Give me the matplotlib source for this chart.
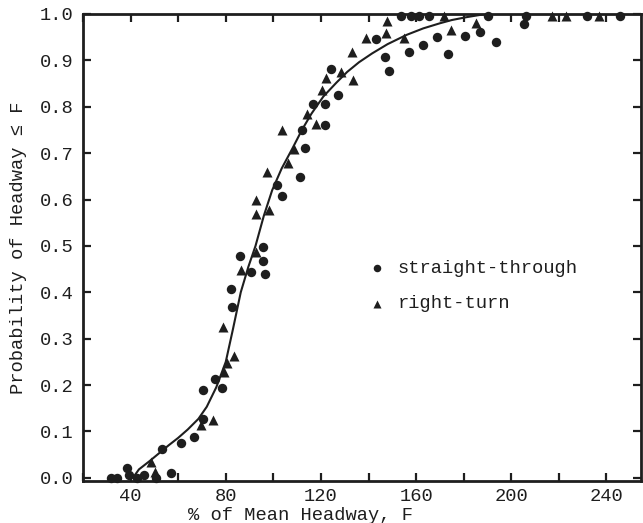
import matplotlib
matplotlib.use("Agg")
import matplotlib.pyplot as plt
from matplotlib.ticker import MultipleLocator, FormatStrFormatter

# ---- data ----
straight_x = [31.6, 34.1, 38.3, 39.2, 42.5, 45.5, 50.5, 56.8, 53.0, 61.0, 66.5,
              70.4, 70.4, 75.5, 78.3, 82.1, 82.6, 85.8, 90.8, 95.8, 95.8, 96.5,
              101.7, 103.5, 111.3, 112.0, 113.4, 116.8, 121.5, 121.8, 124.4, 127.0,
              143.0, 147.0, 148.6, 157.2, 163.0, 168.6, 173.3, 180.6, 187.0, 193.5,
              205.5, 153.5, 158.0, 161.0, 165.5, 190.0, 206.0, 231.6, 245.5]
straight_y = [0.0, 0.0, 0.02, 0.005, 0.0, 0.005, 0.0, 0.01, 0.063, 0.075, 0.088,
              0.19, 0.127, 0.213, 0.193, 0.407, 0.369, 0.478, 0.443, 0.498, 0.468, 0.44,
              0.631, 0.607, 0.648, 0.75, 0.711, 0.807, 0.76, 0.807, 0.881, 0.825,
              0.946, 0.908, 0.878, 0.918, 0.934, 0.951, 0.913, 0.953, 0.962, 0.94,
              0.978, 0.996, 0.996, 0.996, 0.996, 0.996, 0.996, 0.996, 0.996]

right_x = [48.5, 50.3, 69.5, 74.6, 78.7, 79.2, 80.4, 83.4, 86.3, 92.8, 92.8, 92.7,
           98.3, 97.5, 103.5, 106.0, 108.6, 114.0, 118.0, 120.3, 122.0, 128.3,
           133.0, 133.5, 139.0, 147.2, 147.8, 155.0, 174.6, 185.0,
           171.8, 217.0, 223.0, 237.0]
right_y = [0.035, 0.012, 0.113, 0.125, 0.325, 0.229, 0.247, 0.262, 0.447, 0.6, 0.569, 0.486,
           0.577, 0.66, 0.75, 0.679, 0.709, 0.784, 0.762, 0.836, 0.862, 0.874,
           0.917, 0.858, 0.948, 0.96, 0.985, 0.948, 0.965, 0.98,
           0.996, 0.996, 0.996, 0.996]

curve_x = [41, 43.5, 48, 52, 56, 60, 64, 68.5, 72, 76, 80, 83, 86.3, 89.5, 92.5,
           96, 99.5, 103.5, 108, 112, 116, 121, 126.5, 131, 136, 141.5, 148, 156,
           163, 170, 175, 181, 188, 192]
curve_y = [0.0, 0.018, 0.036, 0.053, 0.07, 0.086, 0.104, 0.127, 0.153, 0.195, 0.25,
           0.32, 0.40, 0.455, 0.50, 0.565, 0.62, 0.667, 0.71, 0.75, 0.785, 0.822,
           0.852, 0.875, 0.896, 0.915, 0.935, 0.955, 0.969, 0.98, 0.987, 0.993,
           0.999, 1.0]

x_major = [40, 80, 120, 160, 200, 240]
labels = ["straight-through", "right-turn"]

FONT = ["Liberation Mono", "DejaVu Sans Mono"]
plt.rcParams['font.family'] = FONT
FS = 13.5
INK = "#1e1e1e"

fig = plt.figure(figsize=(6.43, 5.23), dpi=100)
ax = fig.add_axes([83/643, 42/523, (641-83)/643, (481-14)/523])

ax.plot(curve_x, curve_y, color=INK, lw=1.5, zorder=2,
        solid_joinstyle='round', solid_capstyle='round')
ax.scatter(straight_x, straight_y, marker='o', s=46, color=INK, linewidths=0,
           label=labels[0], zorder=3, clip_on=False)
ax.scatter(right_x, right_y, marker='^', s=52, color=INK, linewidths=0,
           label=labels[1], zorder=3, clip_on=False)

ax.set_xlim(20, 254.5)
ax.set_ylim(-0.007, 1.0)
ax.set_xticks(x_major)
ax.xaxis.set_minor_locator(MultipleLocator(20))
ax.yaxis.set_major_locator(MultipleLocator(0.1))
ax.yaxis.set_major_formatter(FormatStrFormatter('%.1f'))

for s in ax.spines.values():
    s.set_linewidth(2.0)
    s.set_color(INK)

ax.tick_params(axis='both', which='both', direction='in', top=True, right=True,
               length=6, width=1.6, color=INK, labelsize=FS, labelcolor=INK)
ax.tick_params(axis='x', which='major', pad=5)
ax.tick_params(axis='y', which='major', pad=7)

ax.set_xlabel("% of Mean Headway, F", fontsize=FS, color=INK)
ax.xaxis.set_label_coords((301-83)/558, -0.056)
ax.set_ylabel("Probability of Headway ≤ F", fontsize=FS, color=INK)
ax.yaxis.set_label_coords(-0.100, 0.5)

leg = ax.legend(loc='upper left', bbox_to_anchor=((367.6-83)/558, (481-259.5)/467),
                frameon=False, fontsize=FS, borderpad=0, borderaxespad=0,
                handlelength=1.0, handletextpad=0.6, labelspacing=1.0,
                markerscale=0.8)
for t in leg.get_texts():
    t.set_color(INK)

fig.savefig("out.png", dpi=100)
